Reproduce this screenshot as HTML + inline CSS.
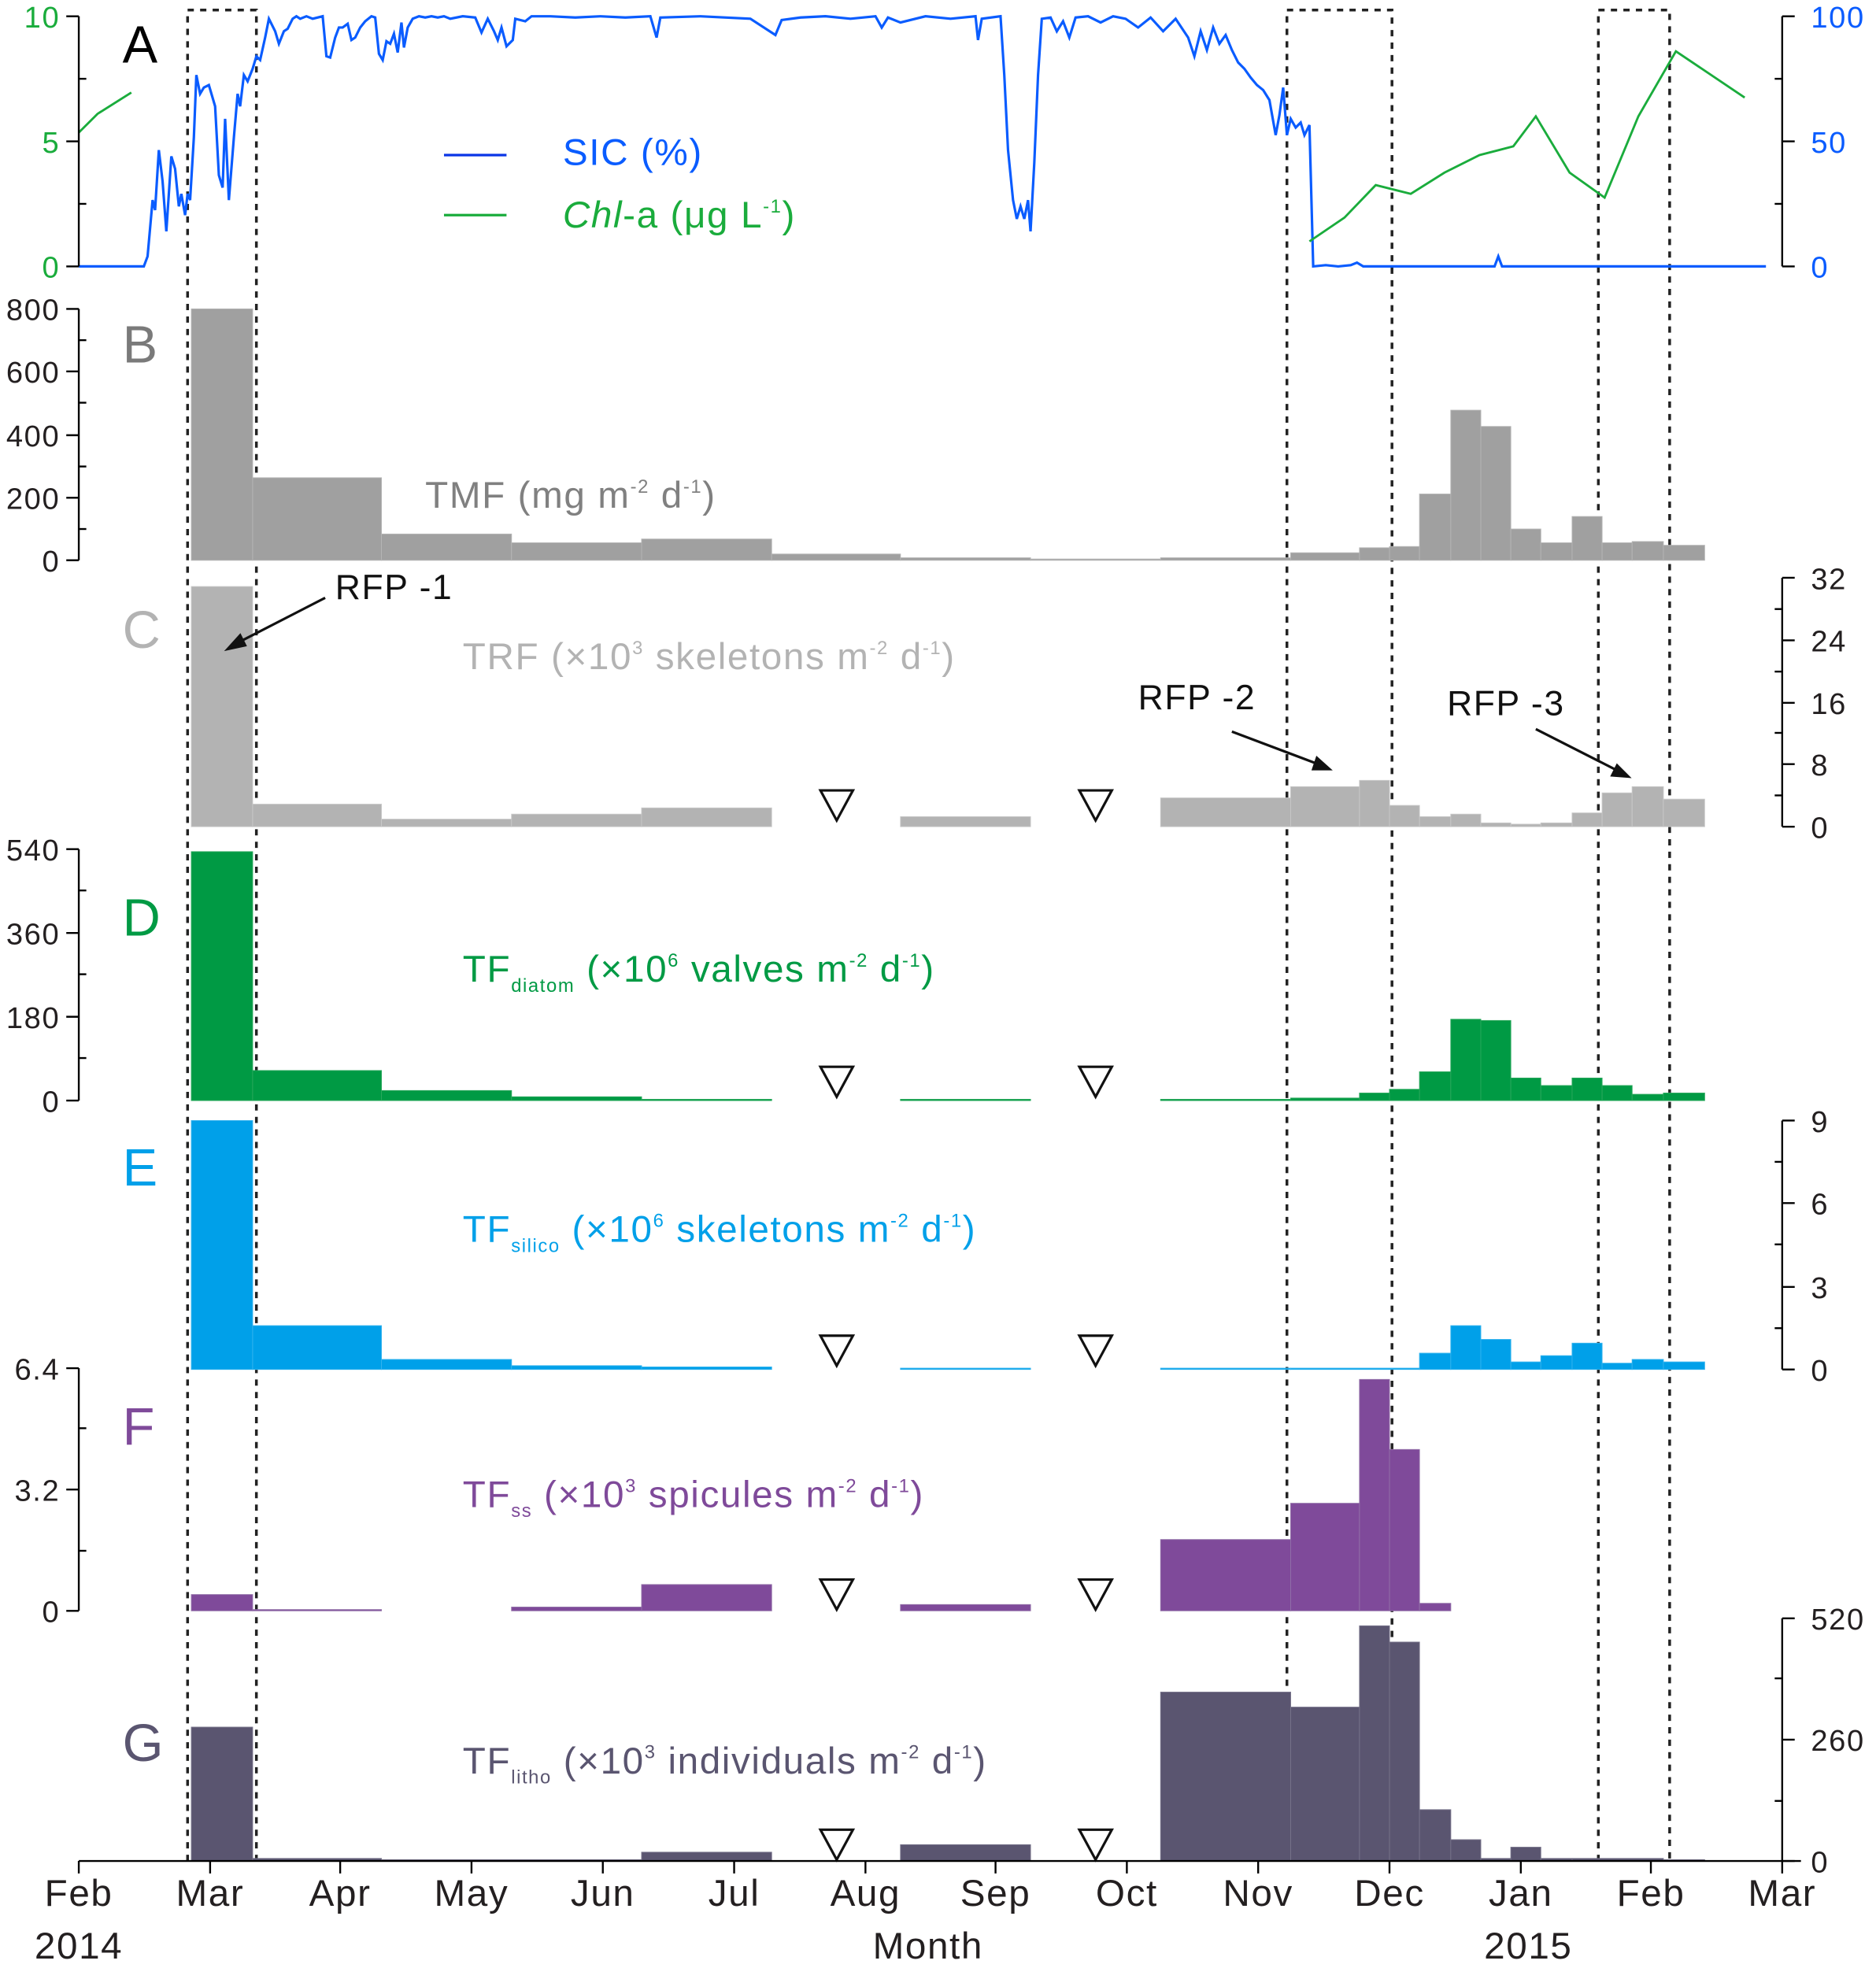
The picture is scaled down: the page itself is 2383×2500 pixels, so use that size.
<!DOCTYPE html>
<html><head><meta charset="utf-8"><style>
html,body{margin:0;padding:0;background:#fff;}
svg{display:block;}
text{font-family:"Liberation Sans",sans-serif;}
.lab{letter-spacing:1px;}
</style></head><body>
<svg width="2383" height="2500" viewBox="0 0 1500 1573.6" preserveAspectRatio="none" xmlns="http://www.w3.org/2000/svg">
<rect width="1500" height="1574" fill="#fff"/>
<g stroke="#222" stroke-width="2.2" stroke-dasharray="5,5" fill="none">
<path d="M150,1488V8H205V1488"/>
<path d="M1029,1488V8H1113V1488"/>
<path d="M1278,1488V8H1335V1488"/>
</g>
<polyline fill="none" stroke="#0a5cff" stroke-width="2" points="63,213 115,213 118,205 122,160 124,168 127,120 130,145 133,185 137,125 140,135 143,165 145,155 148,172 150,155 152,160 155,110 157,60 160,75 163,70 167,68 172,85 175,140 178,150 180,95 183,160 187,110 190,75 192,85 195,60 198,65 202,55 205,45 208,48 212,30 215,15 220,25 223,35 227,25 230,23 234,15 237,13 240,15 245,13 250,15 258,13 261,45 264,46 268,30 271,22 274,22 278,19 281,32 284,30 288,22 292,17 297,13 300,14 303,43 306,48 309,33 312,35 315,27 318,42 321,18 323,38 326,22 330,15 335,13 340,14 345,13 350,14 355,13 360,15 370,13 380,14 385,26 390,15 395,25 398,32 401,22 405,37 410,32 412,15 420,17 425,13 440,13 460,14 480,13 500,14 520,13 525,30 528,14 560,13 600,15 620,28 625,16 640,14 660,13 680,15 700,13 705,22 710,14 720,18 740,13 760,15 780,13 782,32 785,15 800,13 803,60 806,120 810,160 813,175 816,165 819,175 822,160 824,185 827,130 830,60 833,15 840,14 845,25 850,17 855,30 860,14 870,13 880,18 890,13 900,15 910,22 920,14 930,25 940,15 950,30 955,45 960,25 965,40 970,22 975,35 980,28 985,40 990,50 995,55 1000,62 1005,68 1010,72 1015,80 1020,108 1023,92 1026,70 1029,108 1032,95 1036,102 1040,98 1043,108 1047,100 1050,213 1060,212 1070,213 1080,212 1085,210 1090,213 1195,213 1198,205 1201,213 1412,213"/>
<polyline fill="none" stroke="#1aac3c" stroke-width="1.8" points="63,106 78,91 105,74"/>
<polyline fill="none" stroke="#1aac3c" stroke-width="1.8" points="1047,193 1075,174 1100,148 1128,155 1155,138 1183,124 1210,117 1228,93 1255,138 1283,158 1310,93 1340,41 1395,78"/>
<line x1="355" y1="124" x2="405" y2="124" stroke="#0a35e6" stroke-width="2"/>
<line x1="355" y1="172" x2="405" y2="172" stroke="#1aac3c" stroke-width="2"/>
<text class="lab" x="450" y="132" font-size="30" fill="#0a5cff">SIC (%)</text>
<text class="lab" x="450" y="182" font-size="30" fill="#1aac3c"><tspan font-style="italic">Chl</tspan>-a (μg L<tspan dy="-12" font-size="15">-1</tspan><tspan dy="12">)</tspan></text>
<text x="98" y="50" font-size="42" fill="#000">A</text>
<g stroke="#000" stroke-width="1.5">
<line x1="63" y1="13" x2="63" y2="213"/>
<line x1="53" y1="13" x2="63" y2="13"/><line x1="53" y1="113" x2="63" y2="113"/><line x1="53" y1="213" x2="63" y2="213"/>
<line x1="63" y1="63" x2="69" y2="63"/><line x1="63" y1="163" x2="69" y2="163"/>
<line x1="1425" y1="13" x2="1425" y2="213"/>
<line x1="1425" y1="13" x2="1435" y2="13"/><line x1="1425" y1="113" x2="1435" y2="113"/><line x1="1425" y1="213" x2="1435" y2="213"/>
<line x1="1419" y1="63" x2="1425" y2="63"/><line x1="1419" y1="163" x2="1425" y2="163"/>
</g>
<g class="lab" font-size="24" fill="#1aac3c" text-anchor="end"><text x="48" y="22">10</text><text x="48" y="122">5</text><text x="48" y="222">0</text></g>
<g class="lab" font-size="24" fill="#0a5cff"><text x="1448" y="22">100</text><text x="1448" y="122">50</text><text x="1448" y="222">0</text></g>

<g fill="#a0a0a0" stroke="#b5b5b5" stroke-width="0.6">
<rect x="153" y="247" width="49" height="201"/>
<rect x="202" y="382" width="103" height="66"/>
<rect x="305" y="427" width="104" height="21"/>
<rect x="409" y="434" width="104" height="14"/>
<rect x="513" y="431" width="104" height="17"/>
<rect x="617" y="443" width="103" height="5"/>
<rect x="720" y="446" width="104" height="2"/>
<rect x="824" y="447" width="104" height="1"/>
<rect x="928" y="446" width="104" height="2"/>
<rect x="1032" y="442" width="55" height="6"/>
<rect x="1087" y="438" width="24" height="10"/>
<rect x="1111" y="437" width="24" height="11"/>
<rect x="1135" y="395" width="25" height="53"/>
<rect x="1160" y="328" width="24" height="120"/>
<rect x="1184" y="341" width="24" height="107"/>
<rect x="1208" y="423" width="24" height="25"/>
<rect x="1232" y="434" width="25" height="14"/>
<rect x="1257" y="413" width="24" height="35"/>
<rect x="1281" y="434" width="24" height="14"/>
<rect x="1305" y="433" width="25" height="15"/>
<rect x="1330" y="436" width="33" height="12"/>
</g>
<g stroke="#000" stroke-width="1.5">
<line x1="63" y1="247" x2="63" y2="448"/>
<line x1="53" y1="247" x2="63" y2="247"/><line x1="53" y1="297" x2="63" y2="297"/><line x1="53" y1="348" x2="63" y2="348"/><line x1="53" y1="398" x2="63" y2="398"/><line x1="53" y1="448" x2="63" y2="448"/>
<line x1="63" y1="272" x2="69" y2="272"/><line x1="63" y1="322" x2="69" y2="322"/><line x1="63" y1="373" x2="69" y2="373"/><line x1="63" y1="423" x2="69" y2="423"/>
</g>
<g class="lab" font-size="24" fill="#231f20" text-anchor="end"><text x="48" y="256">800</text><text x="48" y="306">600</text><text x="48" y="357">400</text><text x="48" y="407">200</text><text x="48" y="457">0</text></g>
<text x="98" y="290" font-size="42" fill="#7a7a7a">B</text>
<text class="lab" x="340" y="406" font-size="30" fill="#808080">TMF (mg m<tspan dy="-12" font-size="15">-2</tspan><tspan dy="12"> d</tspan><tspan dy="-12" font-size="15">-1</tspan><tspan dy="12">)</tspan></text>

<g fill="#b3b3b3" stroke="#c8c8c8" stroke-width="0.6">
<rect x="153" y="469" width="49" height="192"/>
<rect x="202" y="643" width="103" height="18"/>
<rect x="305" y="655" width="104" height="6"/>
<rect x="409" y="651" width="104" height="10"/>
<rect x="513" y="646" width="104" height="15"/>
<rect x="720" y="653" width="104" height="8"/>
<rect x="928" y="638" width="104" height="23"/>
<rect x="1032" y="629" width="55" height="32"/>
<rect x="1087" y="624" width="24" height="37"/>
<rect x="1111" y="644" width="24" height="17"/>
<rect x="1135" y="653" width="25" height="8"/>
<rect x="1160" y="651" width="24" height="10"/>
<rect x="1184" y="658" width="24" height="3"/>
<rect x="1208" y="659" width="24" height="2"/>
<rect x="1232" y="658" width="25" height="3"/>
<rect x="1257" y="650" width="24" height="11"/>
<rect x="1281" y="634" width="24" height="27"/>
<rect x="1305" y="629" width="25" height="32"/>
<rect x="1330" y="639" width="33" height="22"/>
</g>
<g stroke="#000" stroke-width="1.5">
<line x1="1425" y1="462" x2="1425" y2="661"/>
<line x1="1425" y1="462" x2="1435" y2="462"/><line x1="1425" y1="512" x2="1435" y2="512"/><line x1="1425" y1="562" x2="1435" y2="562"/><line x1="1425" y1="611" x2="1435" y2="611"/><line x1="1425" y1="661" x2="1435" y2="661"/>
<line x1="1419" y1="487" x2="1425" y2="487"/><line x1="1419" y1="537" x2="1425" y2="537"/><line x1="1419" y1="586" x2="1425" y2="586"/><line x1="1419" y1="636" x2="1425" y2="636"/>
</g>
<g class="lab" font-size="24" fill="#231f20"><text x="1448" y="471">32</text><text x="1448" y="521">24</text><text x="1448" y="571">16</text><text x="1448" y="620">8</text><text x="1448" y="670">0</text></g>
<text x="98" y="518" font-size="42" fill="#b3b3b3">C</text>
<text class="lab" x="370" y="535" font-size="30" fill="#b3b3b3">TRF (×10<tspan dy="-12" font-size="15">3</tspan><tspan dy="12"> skeletons m</tspan><tspan dy="-12" font-size="15">-2</tspan><tspan dy="12"> d</tspan><tspan dy="-12" font-size="15">-1</tspan><tspan dy="12">)</tspan></text>
<text class="lab" x="268" y="479" font-size="28" fill="#111">RFP -1</text>
<text class="lab" x="910" y="567" font-size="28" fill="#111">RFP -2</text>
<text class="lab" x="1157" y="572" font-size="28" fill="#111">RFP -3</text>
<g stroke="#111" stroke-width="2" fill="#111">
<line x1="260" y1="478" x2="190" y2="514"/><path d="M182,519 L192,508 L196,516Z"/>
<line x1="985" y1="585" x2="1054" y2="611"/><path d="M1063,615 L1050,615 L1053,606Z"/>
<line x1="1228" y1="583" x2="1293" y2="616"/><path d="M1302,621 L1289,620 L1293,612Z"/>
</g>

<g fill="none" stroke="#111" stroke-width="2">
<path d="M656,632H682L669,656Z"/><path d="M863,632H889L876,656Z"/>
<path d="M656,853H682L669,877Z"/><path d="M863,853H889L876,877Z"/>
<path d="M656,1068H682L669,1092Z"/><path d="M863,1068H889L876,1092Z"/>
<path d="M656,1263H682L669,1287Z"/><path d="M863,1263H889L876,1287Z"/>
<path d="M656,1463H682L669,1487Z"/><path d="M863,1463H889L876,1487Z"/>
</g>

<g fill="#009a44" stroke="#2aa85c" stroke-width="0.6">
<rect x="153" y="681" width="49" height="199"/>
<rect x="202" y="856" width="103" height="24"/>
<rect x="305" y="872" width="104" height="8"/>
<rect x="409" y="877" width="104" height="3"/>
<rect x="513" y="879" width="104" height="1"/>
<rect x="720" y="879" width="104" height="1"/>
<rect x="928" y="879" width="104" height="1"/>
<rect x="1032" y="878" width="55" height="2"/>
<rect x="1087" y="874" width="24" height="6"/>
<rect x="1111" y="871" width="24" height="9"/>
<rect x="1135" y="857" width="25" height="23"/>
<rect x="1160" y="815" width="24" height="65"/>
<rect x="1184" y="816" width="24" height="64"/>
<rect x="1208" y="862" width="24" height="18"/>
<rect x="1232" y="868" width="25" height="12"/>
<rect x="1257" y="862" width="24" height="18"/>
<rect x="1281" y="868" width="24" height="12"/>
<rect x="1305" y="875" width="25" height="5"/>
<rect x="1330" y="874" width="33" height="6"/>
</g>
<g stroke="#000" stroke-width="1.5">
<line x1="63" y1="679" x2="63" y2="880"/>
<line x1="53" y1="679" x2="63" y2="679"/><line x1="53" y1="746" x2="63" y2="746"/><line x1="53" y1="813" x2="63" y2="813"/><line x1="53" y1="880" x2="63" y2="880"/>
<line x1="63" y1="712" x2="69" y2="712"/><line x1="63" y1="779" x2="69" y2="779"/><line x1="63" y1="846" x2="69" y2="846"/>
</g>
<g class="lab" font-size="24" fill="#231f20" text-anchor="end"><text x="48" y="688">540</text><text x="48" y="755">360</text><text x="48" y="822">180</text><text x="48" y="889">0</text></g>
<text x="98" y="748" font-size="42" fill="#009a44">D</text>
<text class="lab" x="370" y="785" font-size="30" fill="#009a44">TF<tspan dy="8" font-size="15">diatom</tspan><tspan dy="-8"> (×10</tspan><tspan dy="-12" font-size="15">6</tspan><tspan dy="12"> valves m</tspan><tspan dy="-12" font-size="15">-2</tspan><tspan dy="12"> d</tspan><tspan dy="-12" font-size="15">-1</tspan><tspan dy="12">)</tspan></text>

<g fill="#00a0e9" stroke="#33b3ee" stroke-width="0.6">
<rect x="153" y="896" width="49" height="199"/>
<rect x="202" y="1060" width="103" height="35"/>
<rect x="305" y="1087" width="104" height="8"/>
<rect x="409" y="1092" width="104" height="3"/>
<rect x="513" y="1093" width="104" height="2"/>
<rect x="720" y="1094" width="104" height="1"/>
<rect x="928" y="1094" width="104" height="1"/>
<rect x="1032" y="1094" width="103" height="1"/>
<rect x="1135" y="1082" width="25" height="13"/>
<rect x="1160" y="1060" width="24" height="35"/>
<rect x="1184" y="1071" width="24" height="24"/>
<rect x="1208" y="1089" width="24" height="6"/>
<rect x="1232" y="1084" width="25" height="11"/>
<rect x="1257" y="1074" width="24" height="21"/>
<rect x="1281" y="1090" width="24" height="5"/>
<rect x="1305" y="1087" width="25" height="8"/>
<rect x="1330" y="1089" width="33" height="6"/>
</g>
<g stroke="#000" stroke-width="1.5">
<line x1="1425" y1="896" x2="1425" y2="1095"/>
<line x1="1425" y1="896" x2="1435" y2="896"/><line x1="1425" y1="962" x2="1435" y2="962"/><line x1="1425" y1="1029" x2="1435" y2="1029"/><line x1="1425" y1="1095" x2="1435" y2="1095"/>
<line x1="1419" y1="929" x2="1425" y2="929"/><line x1="1419" y1="995" x2="1425" y2="995"/><line x1="1419" y1="1062" x2="1425" y2="1062"/>
</g>
<g class="lab" font-size="24" fill="#231f20"><text x="1448" y="905">9</text><text x="1448" y="971">6</text><text x="1448" y="1038">3</text><text x="1448" y="1104">0</text></g>
<text x="98" y="948" font-size="42" fill="#00a0e9">E</text>
<text class="lab" x="370" y="993" font-size="30" fill="#00a0e9">TF<tspan dy="8" font-size="15">silico</tspan><tspan dy="-8"> (×10</tspan><tspan dy="-12" font-size="15">6</tspan><tspan dy="12"> skeletons m</tspan><tspan dy="-12" font-size="15">-2</tspan><tspan dy="12"> d</tspan><tspan dy="-12" font-size="15">-1</tspan><tspan dy="12">)</tspan></text>

<g fill="#7f4a9a" stroke="#9270a8" stroke-width="0.6">
<rect x="153" y="1275" width="49" height="13"/>
<rect x="202" y="1287" width="103" height="1"/>
<rect x="409" y="1285" width="104" height="3"/>
<rect x="513" y="1267" width="104" height="21"/>
<rect x="720" y="1283" width="104" height="5"/>
<rect x="928" y="1231" width="104" height="57"/>
<rect x="1032" y="1202" width="55" height="86"/>
<rect x="1087" y="1103" width="24" height="185"/>
<rect x="1111" y="1159" width="24" height="129"/>
<rect x="1135" y="1282" width="25" height="6"/>
</g>
<g stroke="#000" stroke-width="1.5">
<line x1="63" y1="1094" x2="63" y2="1288"/>
<line x1="53" y1="1094" x2="63" y2="1094"/><line x1="53" y1="1191" x2="63" y2="1191"/><line x1="53" y1="1288" x2="63" y2="1288"/>
<line x1="63" y1="1142" x2="69" y2="1142"/><line x1="63" y1="1240" x2="69" y2="1240"/>
</g>
<g class="lab" font-size="24" fill="#231f20" text-anchor="end"><text x="48" y="1103">6.4</text><text x="48" y="1200">3.2</text><text x="48" y="1297">0</text></g>
<text x="98" y="1155" font-size="42" fill="#7f4a9a">F</text>
<text class="lab" x="370" y="1205" font-size="30" fill="#7f4a9a">TF<tspan dy="8" font-size="15">ss</tspan><tspan dy="-8"> (×10</tspan><tspan dy="-12" font-size="15">3</tspan><tspan dy="12"> spicules m</tspan><tspan dy="-12" font-size="15">-2</tspan><tspan dy="12"> d</tspan><tspan dy="-12" font-size="15">-1</tspan><tspan dy="12">)</tspan></text>

<g fill="#5a5570" stroke="#77738a" stroke-width="0.6">
<rect x="153" y="1381" width="49" height="107"/>
<rect x="202" y="1486" width="103" height="2"/>
<rect x="305" y="1487" width="104" height="1"/>
<rect x="409" y="1487" width="104" height="1"/>
<rect x="513" y="1481" width="104" height="7"/>
<rect x="720" y="1475" width="104" height="13"/>
<rect x="928" y="1353" width="104" height="135"/>
<rect x="1032" y="1365" width="55" height="123"/>
<rect x="1087" y="1300" width="24" height="188"/>
<rect x="1111" y="1313" width="24" height="175"/>
<rect x="1135" y="1447" width="25" height="41"/>
<rect x="1160" y="1471" width="24" height="17"/>
<rect x="1184" y="1486" width="24" height="2"/>
<rect x="1208" y="1477" width="24" height="11"/>
<rect x="1232" y="1486" width="25" height="2"/>
<rect x="1257" y="1486" width="73" height="2"/>
<rect x="1330" y="1487" width="33" height="1"/>
</g>
<g stroke="#000" stroke-width="1.5">
<line x1="1425" y1="1294" x2="1425" y2="1488"/>
<line x1="1425" y1="1294" x2="1435" y2="1294"/><line x1="1425" y1="1391" x2="1435" y2="1391"/><line x1="1425" y1="1488" x2="1435" y2="1488"/>
<line x1="1419" y1="1342" x2="1425" y2="1342"/><line x1="1419" y1="1440" x2="1425" y2="1440"/>
</g>
<g class="lab" font-size="24" fill="#231f20"><text x="1448" y="1303">520</text><text x="1448" y="1400">260</text><text x="1448" y="1497">0</text></g>
<text x="98" y="1408" font-size="42" fill="#5a5570">G</text>
<text class="lab" x="370" y="1418" font-size="30" fill="#5a5570">TF<tspan dy="8" font-size="15">litho</tspan><tspan dy="-8"> (×10</tspan><tspan dy="-12" font-size="15">3</tspan><tspan dy="12"> individuals m</tspan><tspan dy="-12" font-size="15">-2</tspan><tspan dy="12"> d</tspan><tspan dy="-12" font-size="15">-1</tspan><tspan dy="12">)</tspan></text>

<g stroke="#000" stroke-width="1.5">
<line x1="63" y1="1488" x2="1440" y2="1488"/>
<line x1="63" y1="1488" x2="63" y2="1498"/><line x1="168" y1="1488" x2="168" y2="1498"/><line x1="272" y1="1488" x2="272" y2="1498"/><line x1="377" y1="1488" x2="377" y2="1498"/><line x1="482" y1="1488" x2="482" y2="1498"/><line x1="587" y1="1488" x2="587" y2="1498"/><line x1="692" y1="1488" x2="692" y2="1498"/><line x1="796" y1="1488" x2="796" y2="1498"/><line x1="901" y1="1488" x2="901" y2="1498"/><line x1="1006" y1="1488" x2="1006" y2="1498"/><line x1="1111" y1="1488" x2="1111" y2="1498"/><line x1="1216" y1="1488" x2="1216" y2="1498"/><line x1="1320" y1="1488" x2="1320" y2="1498"/><line x1="1425" y1="1488" x2="1425" y2="1498"/>
</g>
<g class="lab" font-size="30" fill="#231f20" text-anchor="middle">
<text x="63" y="1524">Feb</text><text x="168" y="1524">Mar</text><text x="272" y="1524">Apr</text><text x="377" y="1524">May</text><text x="482" y="1524">Jun</text><text x="587" y="1524">Jul</text><text x="692" y="1524">Aug</text><text x="796" y="1524">Sep</text><text x="901" y="1524">Oct</text><text x="1006" y="1524">Nov</text><text x="1111" y="1524">Dec</text><text x="1216" y="1524">Jan</text><text x="1320" y="1524">Feb</text><text x="1425" y="1524">Mar</text>
<text x="63" y="1566">2014</text><text x="742" y="1566">Month</text><text x="1222" y="1566">2015</text>
</g>
</svg>
</body></html>
